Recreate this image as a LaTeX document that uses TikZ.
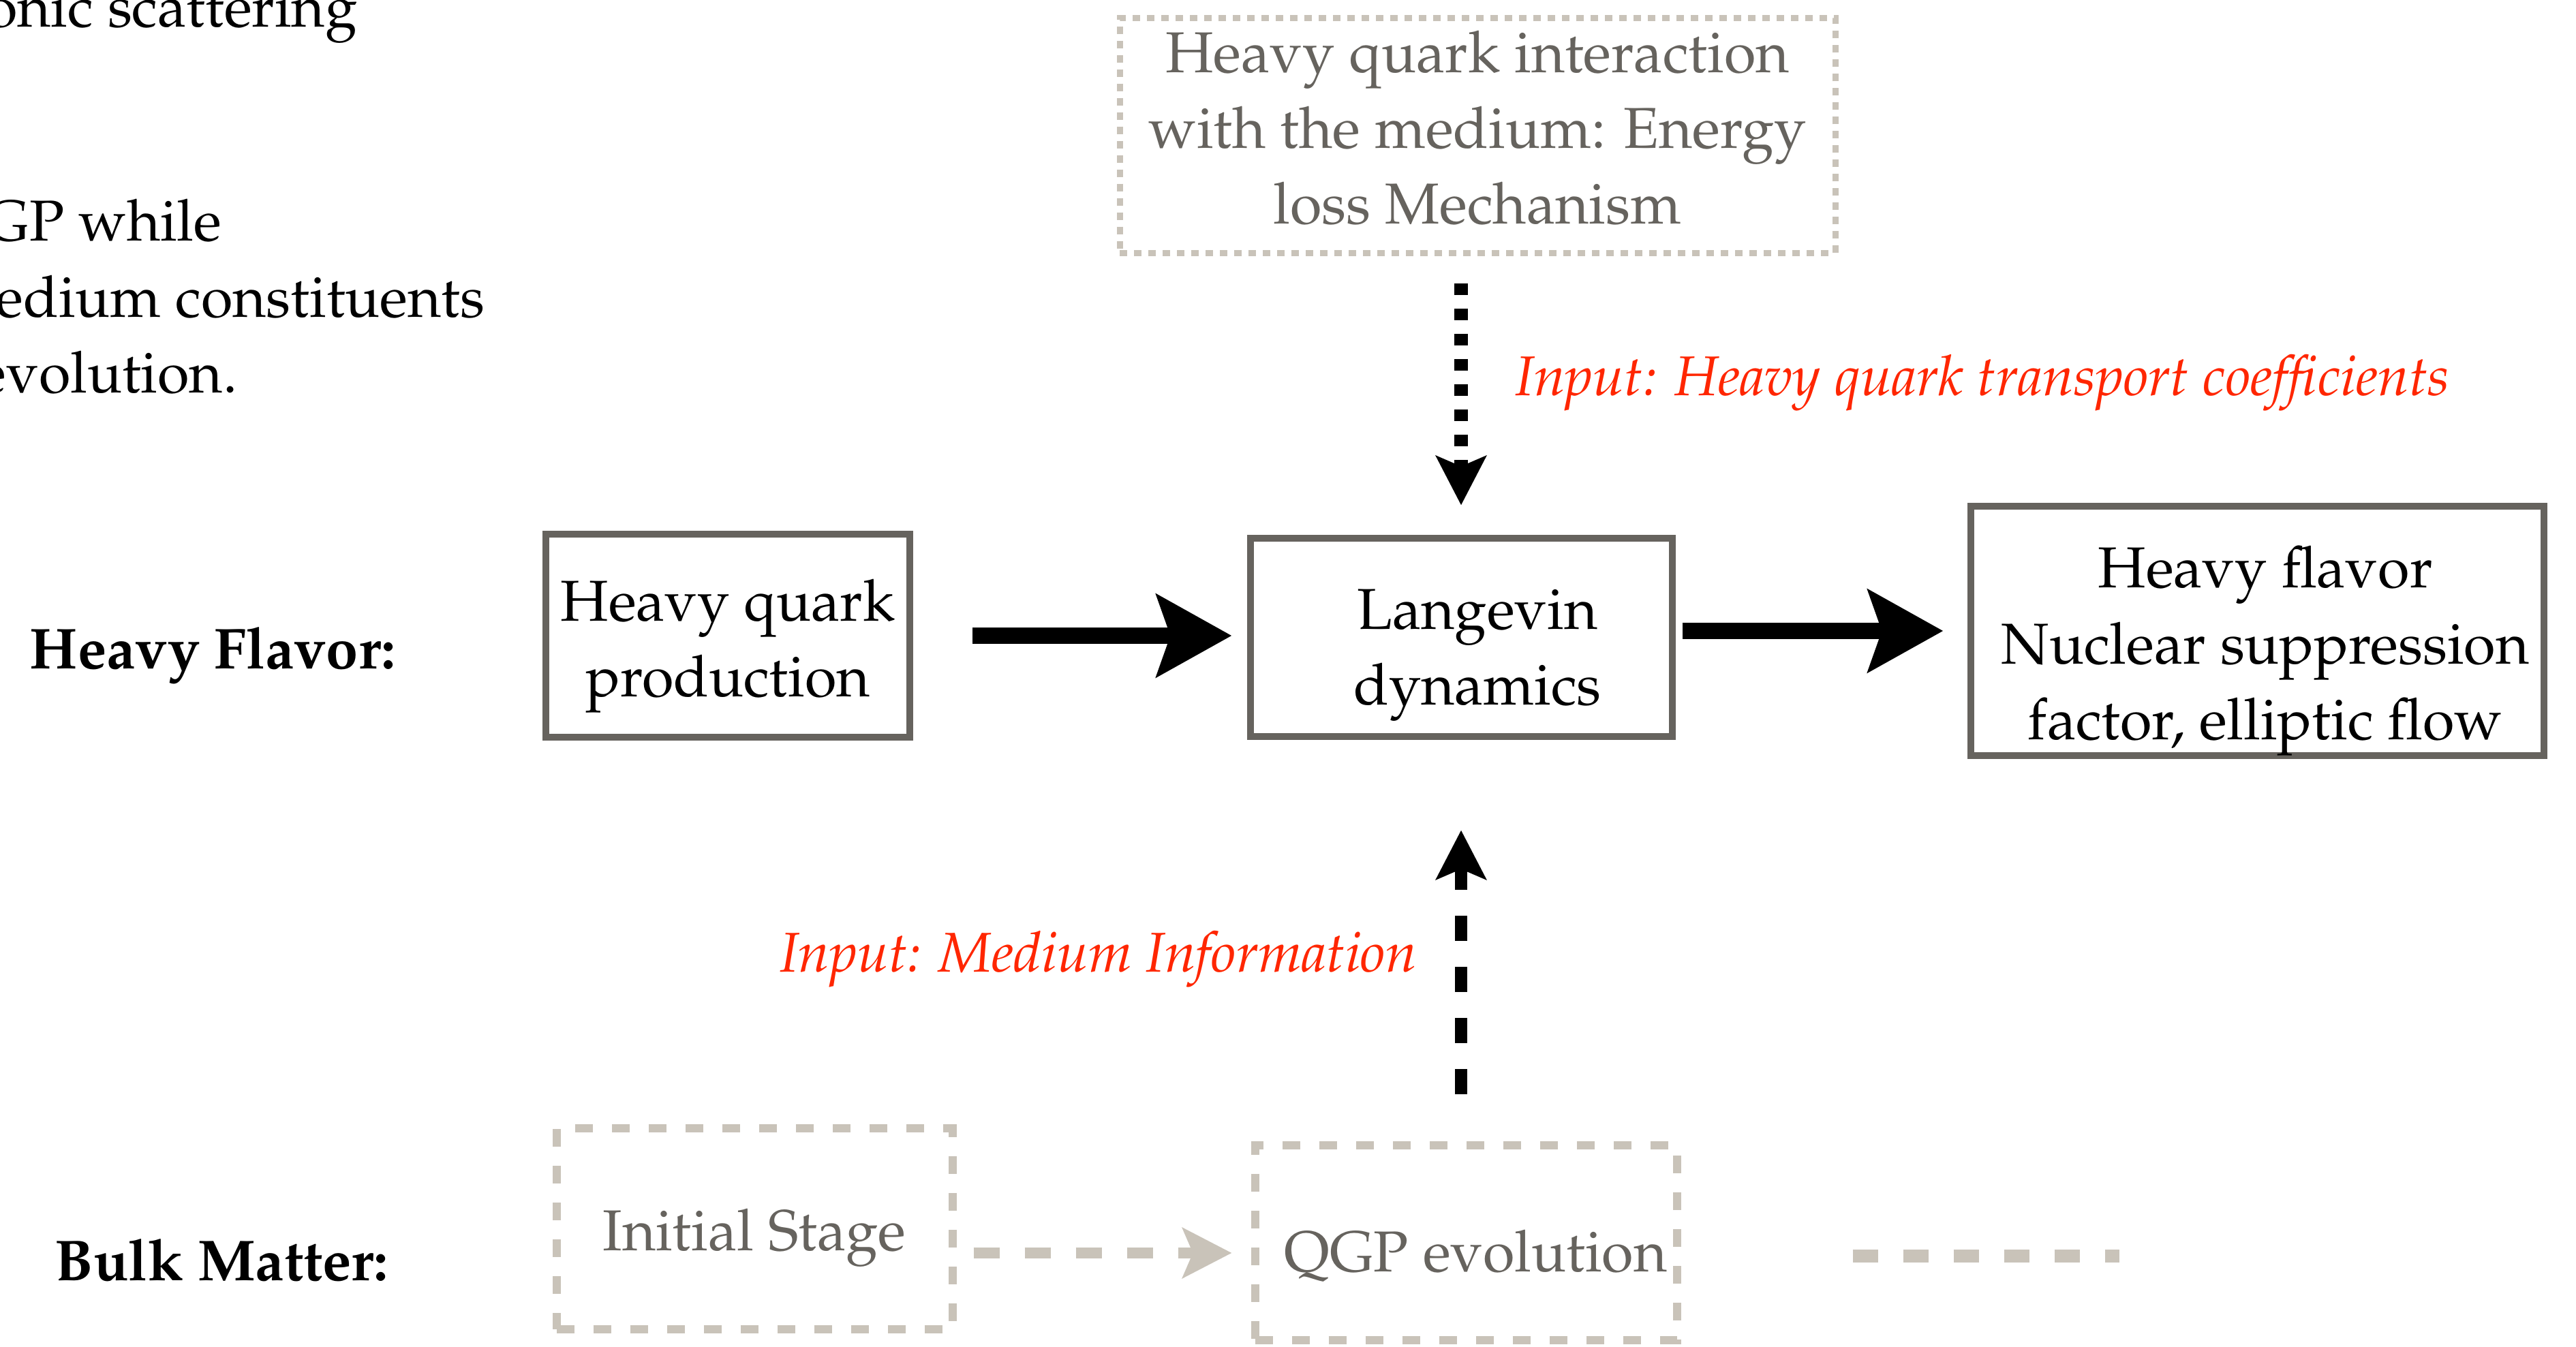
\documentclass[tikz,border=0pt]{standalone}
\usepackage[T1]{fontenc}
\usepackage{mathpazo}
\usetikzlibrary{arrows.meta}
\definecolor{boxgray}{RGB}{102,99,94}
\definecolor{taupe}{RGB}{201,195,185}
\definecolor{inred}{RGB}{255,38,0}
\newcommand{\figfont}{\fontsize{24.1}{31.6}\selectfont}
\newcommand{\lift}[1]{\rule{0pt}{#1}}
\newcommand{\nudge}[1]{\hspace*{#1}}
\begin{document}
\begin{tikzpicture}[
	every node/.style={font=\figfont, inner sep=0pt},
	solidbox/.style={draw=boxgray, line width=0.1cm, align=center},
	ghostbox/.style={draw=taupe, line width=0.12cm, dash pattern=on 0.26cm off 0.28cm, text=boxgray, align=center},
	dotbox/.style={draw=taupe, line width=0.09cm, dash pattern=on 0.11cm off 0.10cm, text=boxgray, align=center},
	padbot/.style={execute at end node={\rule[-#1]{0pt}{#1}}},
	redlabel/.style={text=inred, font=\fontsize{23.4}{30}\selectfont\itshape},
	bigarrow/.style={-{Stealth[length=1.1cm,width=1.2cm,inset=0.2cm]}, line width=0.24cm},
	inarrow/.style={-{Stealth[length=0.72cm,width=0.73cm,inset=0.15cm]}, line width=0.19cm}
	]
	\useasboundingbox (0,0) rectangle (37.8,19.77);
	\clip (0,0) rectangle (37.8,19.77);

	% text running in from the left
	\node[anchor=base east] (txta) at (5.25,19.37) {onic scattering};
	\node[anchor=base east] (txtb) at (3.26,16.23) {GP while};
	\node[anchor=base east] (txtc) at (7.12,15.11) {edium constituents};
	\node[anchor=base east] (txtd) at (3.49,14.00) {evolution.};

	\node[anchor=west] (hflabel) at (0.43,10.15) {\bfseries Heavy Flavor:};
	\node[anchor=west] (bulklabel) at (0.80,1.28) {\bfseries Bulk Matter:};

	\node[dotbox, padbot=0.24cm, minimum width=10.5cm, minimum height=3.45cm] (eloss) at (21.68,17.78) {Heavy quark interaction\\with the medium: Energy\\loss Mechanism};
	\node[solidbox, minimum width=5.34cm, minimum height=2.98cm] (hq) at (10.68,10.44) {\lift{0.91cm}Heavy quark\\production};
	\node[solidbox, minimum width=6.19cm, minimum height=2.91cm] (lang) at (21.44,10.41) {\lift{1.1cm}\nudge{0.48cm}Langevin\\\nudge{0.48cm}dynamics};
	\node[solidbox, minimum width=8.41cm, minimum height=3.59cm] (hf) at (33.12,10.51) {\lift{1.2cm}\nudge{0.24cm}Heavy flavor\\\nudge{0.24cm}Nuclear suppression\\\nudge{0.24cm}factor, elliptic flow};
	\node[ghostbox, minimum width=5.81cm, minimum height=2.95cm] (init) at (11.07,1.73) {\lift{0.86cm}Initial Stage};
	\node[ghostbox, minimum width=6.19cm, minimum height=2.86cm] (qgp) at (21.51,1.53) {\lift{1.0cm}\nudge{0.29cm}QGP evolution};

	\node[redlabel, anchor=west] (coeflabel) at (22.23,14.15) {Input: Heavy quark transport coefficients};
	\node[redlabel, anchor=east] (medlabel) at (20.80,5.69) {Input: Medium Information};

	\draw[bigarrow, shorten <=0.87cm, shorten >=0.22cm] (hq.east) -- (hq.east -| lang.west);
	\draw[bigarrow, shorten <=0.1cm, shorten >=0.35cm] (lang.east |- hf) -- (hf.west);

	\draw[inarrow, line width=0.2cm, dash pattern=on 0.17cm off 0.2cm, shorten <=0.4cm, shorten >=0.44cm] (lang.north |- eloss.south) -- (lang.north);
	\draw[inarrow, line width=0.18cm, dash pattern=on 0.37cm off 0.38cm, shorten <=0.69cm, shorten >=1.32cm] (lang.south |- qgp.north) -- (lang.south);

	\coordinate (flow) at ([yshift=-0.15cm]qgp.west);
	\draw[inarrow, taupe, line width=0.16cm, dash pattern=on 0.38cm off 0.37cm, shorten <=0.25cm, shorten >=0.28cm] (init.east |- flow) -- (flow);
	\coordinate (tail) at (31.10,1.33);
	\draw[taupe, line width=0.19cm, dash pattern=on 0.37cm off 0.37cm, shorten <=2.52cm] (qgp.east |- tail) -- (tail);
\end{tikzpicture}
\end{document}
